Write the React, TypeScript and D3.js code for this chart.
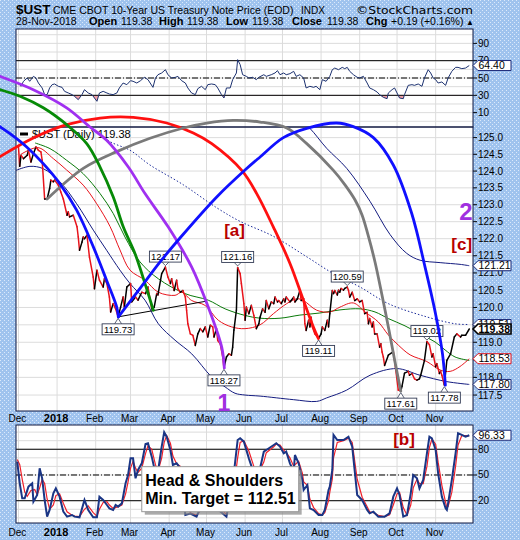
import React from 'react';
import * as d3 from 'd3';

// ---------- DATA (day offsets from 2017-12-01, values) ----------
const priceSeries: [number, number][] = [
[0,124.72],[1,124.14],[2,124.47],[4,124.37],[7,124.47],[8,124.62],[10,124.27],[12,124.52],[14,124.72],[16,124.62],[18,124.57],[19,124.33],[21,123.17],[23,123.17],[25,123.48],[26,123.73],[28,123.68],[29,123.73],[32,123.58],[34,123.38],[36,123.17],[39,122.69],[40,122.79],[41,122.64],[44,122.69],[47,122.35],[48,122.05],[49,121.66],[51,121.9],[52,122.05],[53,122.0],[55,122.1],[57,121.46],[60,120.88],[61,120.54],[63,121.08],[65,120.79],[68,120.59],[69,120.83],[71,120.69],[73,120.3],[74,119.87],[76,120.11],[78,119.96],[80,119.73],[82,120.01],[84,120.3],[85,120.01],[87,120.59],[90,120.69],[91,120.16],[94,120.3],[96,120.21],[99,120.44],[102,120.4],[104,120.59],[107,119.96],[109,120.01],[111,120.4],[112,120.36],[115,120.98],[118,121.17],[120,120.88],[122,120.69],[123,120.83],[125,120.49],[127,120.79],[128,120.54],[130,120.44],[132,120.49],[134,120.3],[135,119.92],[136,119.53],[138,119.24],[140,119.2],[142,118.91],[144,119.24],[146,119.39],[148,119.3],[150,119.44],[152,119.15],[154,119.49],[156,119.44],[157,119.15],[159,119.39],[160,119.05],[162,118.96],[164,118.58],[165,118.27],[167,118.58],[169,118.67],[171,118.63],[172,118.86],[173,119.35],[175,119.92],[176,121.16],[178,120.98],[179,120.69],[181,120.11],[182,119.63],[183,120.01],[185,119.82],[187,120.06],[189,119.77],[191,119.39],[193,119.53],[194,119.72],[196,119.96],[198,119.86],[199,120.2],[201,119.96],[203,120.16],[205,120.11],[206,120.3],[208,120.16],[209,120.2],[211,120.11],[213,120.25],[214,120.16],[215,120.3],[218,120.16],[219,120.2],[221,120.3],[222,120.16],[224,120.25],[226,120.49],[227,120.2],[229,120.25],[230,119.53],[231,119.34],[233,119.63],[234,119.44],[235,119.72],[236,119.44],[238,119.24],[241,119.11],[243,119.24],[244,119.44],[246,119.34],[248,119.63],[249,119.44],[250,119.82],[252,120.49],[253,120.4],[254,120.49],[256,120.36],[257,120.5],[258,120.44],[259,120.55],[261,120.5],[262,120.55],[264,120.59],[265,120.5],[266,120.3],[268,120.44],[270,120.2],[272,120.25],[274,120.16],[276,120.2],[278,119.82],[280,119.86],[281,119.53],[282,119.68],[284,119.44],[285,119.58],[286,119.24],[288,119.24],[290,118.86],[291,118.96],[292,118.72],[293,118.58],[294,118.34],[297,118.63],[301,118.73],[302,118.49],[305,117.64],[307,117.61],[308,117.75],[310,118.12],[313,118.17],[314,118.06],[316,118.11],[318,117.96],[320,117.92],[322,117.96],[323,118.06],[326,118.48],[328,119.02],[330,118.93],[332,118.58],[333,118.67],[335,118.3],[336,118.39],[338,118.11],[339,118.17],[340,118.06],[342,117.78],[344,118.48],[347,118.67],[350,119.15],[352,119.24],[355,119.15],[356,119.2],[359,119.2],[362,119.38]];

const maRed: [number, number][] = [[2,124.5],[15.7,124.7],[28,124.37],[38.7,124.03],[52,123.58],[62.8,123.03],[73.5,122.36],[81.5,121.67],[89.6,121.08],[101.6,120.79],[112.3,120.44],[125.7,120.35],[131.1,120.44],[139.1,120.2],[149.8,120.06],[160.5,119.63],[171.2,119.44],[181.9,119.39],[194,119.5],[204.7,119.82],[215.4,120.11],[223.5,120.25],[228.8,120.2],[239.5,119.92],[250.2,119.87],[258.2,120.01],[268.9,120.13],[278.3,119.87],[289,119.58],[297,119.21],[305,118.92],[314.5,118.64],[327.9,118.45],[338.6,118.21],[346.6,118.17],[354.6,118.31],[362,118.53]];
const maGreen: [number, number][] = [[13.3,124.84],[25.3,124.67],[38.7,124.32],[52,123.92],[65.5,123.33],[76.1,122.74],[85.5,122.05],[97.6,121.32],[112.3,120.83],[133.7,120.4],[152.4,120.21],[165.9,119.96],[181.9,119.77],[194,119.69],[210,119.69],[226,119.78],[242,119.84],[258.2,119.93],[274.3,119.96],[286.3,119.87],[297,119.68],[310.4,119.47],[323.9,119.21],[334.5,119.01],[342.6,118.78],[350.6,118.58],[362,118.48]];
const maNavyLow: [number, number][] = [[-2,124.02],[9.2,124.14],[19.9,124.07],[33.3,123.68],[46.7,123.03],[60.1,122.25],[70.8,121.66],[81.5,121.08],[89.6,120.69],[101.6,120.21],[112.3,119.53],[125.7,119.06],[139.1,118.67],[155.2,118.01],[165.9,117.73],[173.9,117.55],[181.9,117.5],[194,117.47],[220.7,117.37],[239.5,117.32],[247.5,117.42],[263.6,117.64],[282.3,118.06],[303.8,118.25],[322.5,118.06],[343.9,117.88],[362,117.8]];
const maNavyHigh: [number, number][] = [[226,125.53],[234,125.28],[247.5,124.68],[263.6,124.08],[282.3,123.1],[298.4,122.12],[311.8,121.57],[322.5,121.37],[338.6,121.3],[354.6,121.25],[362,121.21]];
const maDotted: [number, number][] = [[50,125.6],[61.4,125.23],[73.5,124.88],[89.6,124.62],[105.6,124.18],[132.4,123.59],[159.2,122.91],[177.9,122.51],[204.7,122.07],[231.5,121.47],[252.9,120.98],[274.3,120.59],[297,120.11],[323.9,119.77],[350.6,119.53],[362,119.51]];

const arcBlueA: [number, number][] = [[-22.9,125.53],[-14.9,125.33],[-6.8,125.12],[6.6,124.72],[19.9,124.22],[33.3,123.62],[46.7,122.84],[60.1,121.76],[70.8,120.78],[78.9,120.01],[80.2,119.73]];
const arcGreen: [number, number][] = [[-22.9,126.53],[-14.9,126.45],[1.2,126.25],[19.9,125.9],[38.7,125.39],[54.8,124.82],[65.5,124.12],[76.1,123.23],[84.2,122.34],[93.6,121.56],[101.6,120.69],[108.3,119.92]];
const arcPurple: [number, number][] = [[-22.9,126.98],[-14.9,126.86],[11.9,126.45],[38.7,125.9],[57.4,125.32],[70.8,124.92],[88.2,124.12],[101.6,123.33],[120.3,122.34],[139.1,121.17],[152.4,120.01],[163.2,118.86],[165.3,118.27]];
const arcRed: [number, number][] = [[-22.9,124.24],[-14.9,124.43],[11.9,124.99],[38.7,125.39],[65.5,125.59],[92.2,125.61],[119,125.44],[140.4,125.14],[155.2,124.82],[179.3,124.02],[191.3,123.33],[204.7,122.34],[218.1,121.27],[228.8,120.21],[236.8,119.44],[240.8,119.11]];
const arcGrey: [number, number][] = [[23,123.17],[52,124.08],[78.9,124.58],[105.6,124.98],[132.4,125.29],[151.2,125.44],[172.5,125.52],[194,125.47],[215.4,125.29],[231.5,124.82],[252.9,124.02],[262.2,123.59],[270.3,123.14],[275.9,122.7],[280.7,122.11],[286.3,121.32],[291.9,120.36],[297.5,119.35],[302.4,118.43],[307,117.61]];
const arcBlueF: [number, number][] = [[80.2,119.73],[97.6,120.55],[113.7,121.32],[129.7,122.02],[159.2,123.23],[181.9,124.03],[194,124.42],[212.7,125.0],[231.5,125.28],[255.6,125.44],[268.9,125.33],[285,125.0],[301,124.18],[315.8,122.74],[326.5,121.17],[334.9,119.82],[340.5,118.67],[342.8,117.78]];
const neckline: [number, number][] = [[80.2,119.73],[150.6,120.18]];

const highs: [number, number][] = [[118,121.17],[176,121.16],[264,120.59],[328,119.02]];
const lows: [number, number][] = [[80,119.73],[165,118.27],[241,119.11],[307,117.61],[342,117.78]];

const rsiSeries: [number, number][] = [[0,44.2],[2,40.4],[4,46.2],[7,50],[9,46.2],[12,51.9],[14,50],[16,44.2],[19,38.5],[21,30.8],[23,30.8],[25,38.5],[27,42.3],[29,43.1],[32,40.4],[35,39.2],[37,34.6],[40,32.7],[43,30.8],[45,28.8],[48,25],[51,30.8],[53,36.5],[56,32.7],[59,30.8],[61,26.9],[63,23.1],[65,32.7],[68,34.6],[71,32.7],[73,31.5],[76,30.8],[79,32.7],[81,38.5],[84,44.2],[87,42.3],[90,46.9],[92,46.2],[95,44.2],[98,46.9],[101,50.8],[104,48.1],[108,39.2],[110,50],[112,53.8],[115,55.8],[118,59.6],[120,53.8],[123,50],[126,50.8],[128,51.9],[131,46.9],[134,44.2],[136,38.5],[139,32.7],[142,30.8],[144,37.7],[147,40.4],[150,36.5],[152,42.3],[155,43.1],[158,42.3],[160,38.5],[163,30.8],[165,26.9],[167,38.5],[170,38.5],[172,48.1],[175,55.8],[176,71.2],[178,65.4],[180,53.8],[183,51.9],[185,50],[188,50.8],[191,48.1],[193,50.8],[197,53.8],[199,51.9],[203,53.8],[206,55.8],[208,58.5],[210,53.8],[213,55.8],[215,53.8],[218,55],[221,57.7],[223,51.9],[226,53.8],[229,50],[231,38.5],[234,40.4],[237,39.2],[239,40.4],[242,36.5],[244,48.1],[247,46.2],[250,51.9],[252,59.6],[254,61.5],[257,59.6],[260,62.3],[262,60.8],[264,62.3],[266,57.7],[269,53.8],[272,50.8],[274,50],[277,51.9],[280,44.2],[282,38.5],[285,36.5],[288,33.8],[290,30.8],[293,27.7],[296,26.1],[297,32.7],[300,36.5],[302,38.5],[304,32.7],[306,26.9],[309,26.1],[310,30.8],[313,41.5],[316,42.3],[318,41.5],[321,43.1],[324,40.4],[326,50],[329,59.6],[331,55.8],[333,50],[335,48.1],[337,44.2],[340,45.4],[343,41.5],[345,50],[348,57.7],[351,62.3],[353,62.3],[356,60.8],[359,61.5],[362,64.4]];

const stochK: [number, number][] = [[-1,65.6],[1,40.3],[3,22.8],[5,22.8],[8,36.4],[11,40.3],[12,18.9],[15,26.7],[17,57.8],[19,46.1],[21,20.8],[23,1.4],[25,9.2],[28,28.6],[30,34.4],[33,24.7],[36,7.2],[39,1.4],[43,3.3],[45,1.4],[49,0.6],[53,20.8],[56,9.2],[60,0.6],[63,0.6],[65,24.7],[68,20.8],[71,15],[73,11.1],[76,9.2],[78,15],[80,13.1],[83,16.9],[86,40.3],[88,50],[90,69.4],[92,69.4],[94,46.1],[96,55.8],[99,63.6],[102,86.2],[104,87],[107,71.4],[110,51.9],[112,53.9],[115,83.1],[117,99.8],[119,94.7],[122,79.2],[124,61.7],[127,63.6],[130,57.8],[134,3.3],[138,5],[143,1.4],[150,25],[155,20],[160,10],[167,1.4],[172,40],[176,90.8],[178,92.8],[181,88.9],[185,69.4],[189,51.9],[192,45],[197,77.2],[199,79.2],[205,85],[207,87],[210,83.1],[213,75.3],[215,77.2],[218,63.6],[221,53.9],[222,73.3],[225,63.6],[228,44.2],[229,32.5],[232,38.3],[234,11.1],[237,9.2],[241,3.3],[244,3.3],[246,9.2],[249,32.5],[250,36.4],[252,55.8],[253,96.7],[256,90.8],[261,90.8],[265,94.7],[268,83.1],[272,26.7],[276,20.8],[280,9.2],[282,5.3],[285,7.2],[289,1.4],[294,1.4],[298,5.3],[301,24.7],[304,34.4],[306,26.7],[309,1.4],[312,3.3],[315,28.6],[317,50],[320,46.1],[322,34.4],[325,44.2],[328,75.3],[330,94.7],[332,92.8],[335,79.2],[337,51.9],[340,24.7],[343,11.1],[344,9.2],[345,16.9],[348,44.2],[351,75.3],[353,98.6],[356,96.7],[359,94.7],[362,96.33]];
const stochD: [number, number][] = [[-1,68],[1,62],[3,45],[5,30],[7,25],[10,32],[13,33],[15,27],[17,35],[19,45],[21,40],[23,22],[25,10],[28,15],[30,26],[33,28],[36,17],[39,7],[43,3],[45,2],[49,1.5],[53,10],[56,14],[60,6],[63,2],[65,10],[68,18],[71,19],[73,15],[76,11],[78,12],[80,13],[83,15],[86,28],[88,42],[90,58],[92,66],[94,58],[96,53],[99,58],[102,75],[104,84],[107,80],[110,62],[112,54],[115,70],[117,88],[119,96],[122,87],[124,72],[127,63],[130,60],[134,25],[138,6],[143,3],[150,15],[155,20],[160,14],[167,4],[172,25],[176,70],[178,88],[181,90],[185,78],[189,60],[192,50],[197,65],[199,76],[205,83],[207,86],[210,85],[213,79],[215,76],[218,70],[221,60],[222,62],[225,66],[228,52],[229,42],[232,38],[234,22],[237,12],[241,5],[244,3.5],[246,6],[249,20],[250,30],[252,45],[253,70],[256,88],[261,90],[265,93],[268,88],[272,45],[276,24],[280,13],[282,7],[285,6],[289,3],[294,1.5],[298,3.5],[301,15],[304,28],[306,30],[309,12],[312,3],[315,15],[317,35],[320,45],[322,40],[325,40],[328,60],[330,82],[332,92],[335,86],[337,65],[340,38],[343,18],[344,12],[345,13],[348,30],[351,60],[353,85],[356,96],[359,96],[362,95.5]];

const monthLabels = ['Dec','2018','Feb','Mar','Apr','May','Jun','Jul','Aug','Sep','Oct','Nov'];
const priceTicks = [117.5,118.0,118.5,119.0,119.5,120.0,120.5,121.0,121.5,122.0,122.5,123.0,123.5,124.0,124.5,125.0];
const rsiTicks = [90,70,50,30,10];
const stochTicks = [80,50,20];
const headerItems: [string, number, boolean][] = [['Open',89,true],['119.38',121,false],['High',159,true],['119.38',187,false],['Low',226,true],['119.38',252,false],['Close',292,true],['119.38',327,false],['Chg',366,true],['+0.19 (+0.16%)',391,false]];
const priceTags: [number, string, string, boolean][] = [[121.21,'121.21','#1c2a78',false],[119.51,'119.51','#1c2a78',false],[119.38,'119.38','#000000',true],[118.53,'118.53','#e0101a',false],[117.8,'117.80','#1c2a78',false]];

// ---------- LAYOUT ----------
const PL = 16, PR = 473;
const RSI_T = 29, RSI_B = 127, MAIN_T = 127, MAIN_B = 411, ST_T = 425, ST_B = 523;
const FONT = 'Liberation Sans, Arial, Helvetica, sans-serif';
const DAY0 = Date.UTC(2017, 11, 1);

export default function App() {
  const x = d3.scaleUtc().domain([new Date(Date.UTC(2017, 10, 29)), new Date(Date.UTC(2018, 11, 1))]).range([PL, PR]);
  const dx = (d: number) => x(new Date(DAY0 + d * 86400000));
  const yP = d3.scaleLog().domain([117.05, 125.32]).range([MAIN_B, MAIN_T]);
  const yR = d3.scaleLinear().domain([-6.6, 106.6]).range([RSI_B, RSI_T]);
  const yS = d3.scaleLinear().domain([-6, 108.3]).range([ST_B, ST_T]);
  const months = d3.utcMonth.range(new Date(DAY0), new Date(Date.UTC(2018, 11, 1)));

  const lineStraight = d3.line<[number, number]>().x(d => dx(d[0])).y(d => yP(d[1]));
  const lineSmooth = d3.line<[number, number]>().x(d => dx(d[0])).y(d => yP(d[1])).curve(d3.curveCatmullRom.alpha(0.5));
  const rsiLine = d3.line<[number, number]>().x(d => dx(d[0])).y(d => yR(d[1]));
  const rsiArea = d3.area<[number, number]>().x(d => dx(d[0])).y0(yR(30)).y1(d => yR(d[1]));
  const stLine = d3.line<[number, number]>().x(d => dx(d[0])).y(d => yS(d[1]));

  const W = PR - PL;
  const grid = '#dcdcdc';
  const border = '#101840';
  const tagYs = priceTags.map(t => yP(t[0]));
  const hiddenTick = (v: number) => tagYs.some(ty => Math.abs(ty - yP(v)) < 6.5);

  const tag = (y: number, text: string, color: string, bold: boolean, key: string) => (
    <g key={key}>
      <path d={`M${PR},${y} L${PR + 5},${y - 5} L${PR + 38},${y - 5} L${PR + 38},${y + 5} L${PR + 5},${y + 5} Z`} fill="#fff" stroke={color} strokeWidth={bold ? 1.6 : 1} />
      <text x={PR + 5.5} y={y + 3.6} fontSize={10.5} fontWeight={bold ? 'bold' : 'normal'} fill="#000">{text}</text>
    </g>
  );

  const noteBox = (d: number, p: number, high: boolean, key: string) => {
    const px = dx(d), py = yP(p);
    const cy = high ? py - 10.5 : py + 12.5;
    const edge = high ? cy + 5.5 : cy - 5.5;
    const tip = high ? py - 1.5 : py + 1.5;
    return (
      <g key={key}>
        <path d={`M${px - 3.5},${edge} L${px},${tip} L${px + 3.5},${edge}`} fill="#fff" stroke="#333c55" strokeWidth={0.8} />
        <rect x={px - 16} y={cy - 5.5} width={32} height={11} fill="#fff" stroke="#333c55" strokeWidth={0.9} />
        <text x={px} y={cy + 3.4} fontSize={9.5} textAnchor="middle" fill="#000">{p.toFixed(2)}</text>
      </g>
    );
  };

  const arc = (data: [number, number][], color: string, key: string) => (
    <path key={key} d={lineSmooth(data) || ''} fill="none" stroke={color} strokeWidth={2.8} strokeLinecap="round" />
  );

  return (
    <svg width={520} height={540} viewBox="0 0 520 540" style={{ position: 'absolute', left: 0, top: 0, display: 'block' }} fontFamily={FONT}>
      <defs>
        <pattern id="bgpat" width={4} height={4} patternUnits="userSpaceOnUse">
          <rect width={4} height={4} fill="#9fc3ee" />
          <rect x={0} y={0} width={1} height={1} fill="#dbe9fb" />
          <rect x={2} y={2} width={1} height={1} fill="#dbe9fb" />
        </pattern>
        <clipPath id="clipMain"><rect x={PL} y={MAIN_T} width={W} height={MAIN_B - MAIN_T} /></clipPath>
        <clipPath id="clipRsi"><rect x={PL} y={RSI_T} width={W} height={RSI_B - RSI_T} /></clipPath>
        <clipPath id="clipRsiLow"><rect x={PL} y={yR(30)} width={W} height={RSI_B - yR(30)} /></clipPath>
        <clipPath id="clipSt"><rect x={PL} y={ST_T} width={W} height={ST_B - ST_T} /></clipPath>
      </defs>
      <rect x={0} y={0} width={520} height={540} fill="url(#bgpat)" />

      {/* header */}
      <text x={16} y={13.5} fontSize={13.5} fontWeight="bold">$UST</text>
      <text x={53} y={13.5} fontSize={10.5}>CME CBOT 10-Year US Treasury Note Price (EOD)</text>
      <text x={301} y={13.5} fontSize={10}>INDX</text>
      <text x={356} y={13.5} fontSize={11} fontFamily="DejaVu Sans, Verdana, sans-serif" textLength={117} lengthAdjust="spacingAndGlyphs">©StockCharts.com</text>
      <text x={16} y={25} fontSize={10.5}>28-Nov-2018</text>
      {headerItems.map(([t, hx, b], i) => (
        <text key={'h' + i} x={hx} y={25} fontSize={b ? 11 : 10.5} fontWeight={b ? 'bold' : 'normal'}>{t}</text>
      ))}
      <text x={466} y={24.5} fontSize={8}>▲</text>

      {/* panel backgrounds */}
      <rect x={PL} y={RSI_T} width={W} height={RSI_B - RSI_T} fill="#fff" />
      <rect x={PL} y={MAIN_T} width={W} height={MAIN_B - MAIN_T} fill="#fff" />
      <rect x={PL} y={ST_T} width={W} height={ST_B - ST_T} fill="#fff" />

      {/* vertical gridlines */}
      {months.map((m, i) => {
        const mx = x(m);
        return (
          <g key={'vg' + i}>
            <line x1={mx} x2={mx} y1={RSI_T} y2={RSI_B} stroke={grid} />
            <line x1={mx} x2={mx} y1={MAIN_T} y2={MAIN_B} stroke={grid} />
            <line x1={mx} x2={mx} y1={ST_T} y2={ST_B} stroke={grid} />
          </g>
        );
      })}

      {/* RSI panel */}
      {d3.range(0, 101, 10).map(v => (
        <line key={'rg' + v} x1={PL} x2={PR} y1={yR(v)} y2={yR(v)} stroke={grid} />
      ))}
      <path d={rsiArea(rsiSeries) || ''} fill="#f0a0a8" clipPath="url(#clipRsiLow)" />
      <line x1={PL} x2={PR} y1={yR(70)} y2={yR(70)} stroke="#000" />
      <line x1={PL} x2={PR} y1={yR(30)} y2={yR(30)} stroke="#000" />
      <line x1={PL} x2={PR} y1={yR(50)} y2={yR(50)} stroke="#000" strokeDasharray="6,2,1,2" />
      <path d={rsiLine(rsiSeries) || ''} fill="none" stroke="#1c3170" strokeWidth={1} clipPath="url(#clipRsi)" />
      {rsiTicks.map(v => (
        <g key={'rt' + v}>
          <line x1={PR} x2={PR + 4} y1={yR(v)} y2={yR(v)} stroke="#000" />
          <text x={PR + 5} y={yR(v) + 3.5} fontSize={10}>{v}</text>
        </g>
      ))}

      {/* main panel */}
      {priceTicks.map(v => (
        <line key={'pg' + v} x1={PL} x2={PR} y1={yP(v)} y2={yP(v)} stroke={grid} />
      ))}
      <g clipPath="url(#clipMain)">
        <path d={lineSmooth(maDotted) || ''} fill="none" stroke="#1a2a9a" strokeWidth={1} strokeDasharray="1.5,2" />
        <path d={lineSmooth(maNavyLow) || ''} fill="none" stroke="#141c80" strokeWidth={1} />
        <path d={lineSmooth(maNavyHigh) || ''} fill="none" stroke="#141c80" strokeWidth={1} />
        <path d={lineSmooth(maGreen) || ''} fill="none" stroke="#0a7a0a" strokeWidth={1} />
        <path d={lineSmooth(maRed) || ''} fill="none" stroke="#e8141c" strokeWidth={1} />
        <path d={lineStraight(neckline) || ''} fill="none" stroke="#000" strokeWidth={1} />
        {priceSeries.slice(1).map((pt, i) => {
          const prev = priceSeries[i];
          return (
            <line key={'ps' + i} x1={dx(prev[0])} y1={yP(prev[1])} x2={dx(pt[0])} y2={yP(pt[1])}
              stroke={pt[1] >= prev[1] ? '#000' : '#e8141c'} strokeWidth={1.5} strokeLinecap="round" />
          );
        })}
      </g>
      {highs.map((h, i) => noteBox(h[0], h[1], true, 'hi' + i))}
      {lows.map((l, i) => noteBox(l[0], l[1], false, 'lo' + i))}
      <line x1={20} x2={28} y1={134} y2={134} stroke="#000" strokeWidth={3} />
      <text x={32} y={137.5} fontSize={11}>$UST (Daily) 119.38</text>
      {priceTicks.map(v => (
        <g key={'pt' + v}>
          <line x1={PR} x2={PR + 4} y1={yP(v)} y2={yP(v)} stroke="#000" />
          {!hiddenTick(v) && <text x={PR + 5} y={yP(v) + 3.5} fontSize={10}>{v.toFixed(1)}</text>}
        </g>
      ))}

      {/* stochastic panel */}
      {d3.range(0, 101, 10).map(v => (
        <line key={'sg' + v} x1={PL} x2={PR} y1={yS(v)} y2={yS(v)} stroke={grid} />
      ))}
      <line x1={PL} x2={PR} y1={yS(80)} y2={yS(80)} stroke="#000" />
      <line x1={PL} x2={PR} y1={yS(20)} y2={yS(20)} stroke="#000" />
      <line x1={PL} x2={PR} y1={yS(50)} y2={yS(50)} stroke="#000" strokeDasharray="6,2,1,2" />
      <g clipPath="url(#clipSt)">
        <path d={stLine(stochD) || ''} fill="none" stroke="#f0202a" strokeWidth={1.2} />
        <path d={stLine(stochK) || ''} fill="none" stroke="#1a3585" strokeWidth={2} />
      </g>
      {stochTicks.map(v => (
        <g key={'st' + v}>
          <line x1={PR} x2={PR + 4} y1={yS(v)} y2={yS(v)} stroke="#000" />
          <text x={PR + 5} y={yS(v) + 3.5} fontSize={10}>{v}</text>
        </g>
      ))}
      {/* Head & Shoulders box */}
      <rect x={dx(99) + 3} y={yS(59.7) + 3} width={dx(225) - dx(99)} height={yS(7.2) - yS(59.7)} fill="#888" opacity={0.7} />
      <rect x={dx(99)} y={yS(59.7)} width={dx(225) - dx(99)} height={yS(7.2) - yS(59.7)} fill="#fff" stroke="#999" strokeWidth={1} />
      <text x={dx(99) + 3.5} y={485.5} fontSize={16} fontWeight="bold">Head &amp; Shoulders</text>
      <text x={dx(99) + 3.5} y={504} fontSize={16} fontWeight="bold">Min. Target = 112.51</text>
      <text x={dx(309.6)} y={yS(85)} fontSize={17} fontWeight="bold" fill="#b80000" textAnchor="middle">[b]</text>

      {/* panel borders */}
      <rect x={PL} y={RSI_T} width={W} height={RSI_B - RSI_T} fill="none" stroke={border} />
      <rect x={PL} y={MAIN_T} width={W} height={MAIN_B - MAIN_T} fill="none" stroke={border} />
      <rect x={PL} y={ST_T} width={W} height={ST_B - ST_T} fill="none" stroke={border} />

      {/* x-axis labels */}
      {months.map((m, i) => (
        <g key={'ml' + i}>
          <text x={x(m) - 1} y={421.5} fontSize={i === 1 ? 11 : 10} fontWeight={i === 1 ? 'bold' : 'normal'} textAnchor="middle">{monthLabels[i]}</text>
          <text x={x(m) - 1} y={535.5} fontSize={i === 1 ? 11 : 10} fontWeight={i === 1 ? 'bold' : 'normal'} textAnchor="middle">{monthLabels[i]}</text>
        </g>
      ))}

      {/* cycle arcs */}
      {arc(arcRed, '#ff1010', 'aR')}
      {arc(arcGrey, '#7a7a7a', 'aG')}
      {arc(arcGreen, '#078a07', 'aGr')}
      {arc(arcPurple, '#a030f0', 'aP')}
      {arc(arcBlueA, '#1010ff', 'aB1')}
      {arc(arcBlueF, '#1010ff', 'aB2')}

      {/* wave labels */}
      <text x={dx(165)} y={yP(117.05)} fontSize={23} fontWeight="bold" fill="#a030e0" textAnchor="middle">1</text>
      <text x={dx(359.4)} y={yP(122.55)} fontSize={24} fontWeight="bold" fill="#a030e0" textAnchor="middle">2</text>
      <text x={dx(173.5)} y={yP(122.08)} fontSize={17} fontWeight="bold" fill="#b80000" textAnchor="middle">[a]</text>
      <text x={dx(364.3)} y={yP(121.67)} fontSize={17} fontWeight="bold" fill="#b80000" textAnchor="end">[c]</text>

      {/* value tags */}
      {tag(yR(64.4), '64.40', '#1c2a78', false, 'tr')}
      {priceTags.map((t, i) => tag(yP(t[0]), t[1], t[2], t[3], 'tp' + i))}
      {tag(yS(96.33), '96.33', '#1c2a78', false, 'ts')}
    </svg>
  );
}
